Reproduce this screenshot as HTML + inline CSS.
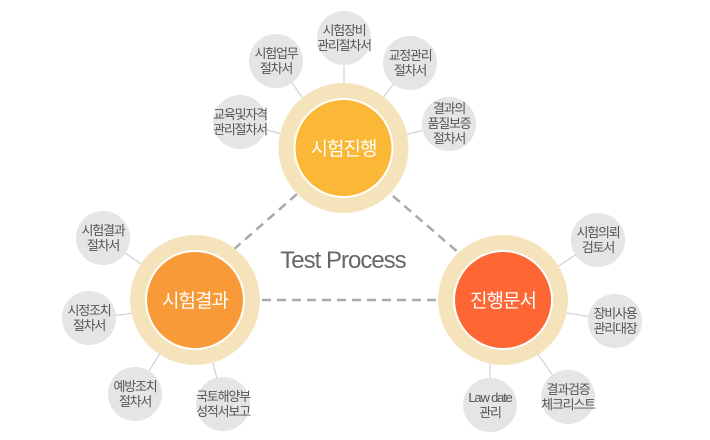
<!DOCTYPE html>
<html><head><meta charset="utf-8"><style>
html,body{margin:0;padding:0;background:#fff;}
svg{display:block;font-family:"Liberation Sans","Noto Sans CJK KR",sans-serif;}
.s{fill:#e5e5e5}
.st{font-size:13px;fill:#555;text-anchor:middle;letter-spacing:-1.2px}
.m{font-size:19px;fill:#fff;text-anchor:middle;letter-spacing:-1px}
.l{stroke:#c8c8c8;stroke-width:1}
.d{stroke:#aaa;stroke-width:2.5;stroke-dasharray:9,6;fill:none}
</style></head><body>
<svg width="710" height="440" viewBox="0 0 710 440">
<line class="d" x1="297" y1="194" x2="233" y2="250"/>
<line class="d" x1="393" y1="196" x2="460" y2="254"/>
<line class="d" x1="262" y1="300" x2="437" y2="300"/>
<text x="343" y="268" font-size="24" fill="#666" text-anchor="middle" letter-spacing="-1">Test Process</text>
<g class="l">
<line x1="240" y1="122" x2="295" y2="138"/>
<line x1="276" y1="61" x2="310" y2="108"/>
<line x1="344" y1="38" x2="344" y2="98"/>
<line x1="410" y1="63" x2="375" y2="108"/>
<line x1="449" y1="124" x2="392" y2="138"/>
<line x1="103" y1="238" x2="150" y2="270"/>
<line x1="89" y1="318" x2="145" y2="312"/>
<line x1="135" y1="394" x2="165" y2="345"/>
<line x1="223" y1="404" x2="210" y2="350"/>
<line x1="598" y1="240" x2="545" y2="275"/>
<line x1="615" y1="321" x2="550" y2="310"/>
<line x1="490" y1="405" x2="490" y2="340"/>
<line x1="568" y1="397" x2="530" y2="343"/>
</g>
<circle cx="343.5" cy="148" r="65" fill="#f5e3bb"/>
<circle cx="343.5" cy="148" r="50" fill="#fff"/>
<circle cx="343.5" cy="148" r="48" fill="#fbb736"/>
<text class="m" x="343.5" y="155">시험진행</text>
<circle cx="195" cy="300" r="65" fill="#f5e3bb"/>
<circle cx="195" cy="300" r="50" fill="#fff"/>
<circle cx="195" cy="300" r="48" fill="#f99a38"/>
<text class="m" x="195" y="307">시험결과</text>
<circle cx="503" cy="300" r="65" fill="#f5e3bb"/>
<circle cx="503" cy="300" r="50" fill="#fff"/>
<circle cx="503" cy="300" r="48" fill="#fe6634"/>
<text class="m" x="503" y="307">진행문서</text>
<circle class="s" cx="240" cy="122" r="27"/>
<text class="st" x="240" y="119">교육및자격</text><text class="st" x="240" y="134">관리절차서</text>
<circle class="s" cx="276" cy="61" r="27"/>
<text class="st" x="276" y="58">시험업무</text><text class="st" x="276" y="73">절차서</text>
<circle class="s" cx="344" cy="38" r="27"/>
<text class="st" x="344" y="35">시험장비</text><text class="st" x="344" y="50">관리절차서</text>
<circle class="s" cx="410" cy="63" r="27"/>
<text class="st" x="410" y="60">교정관리</text><text class="st" x="410" y="75">절차서</text>
<circle class="s" cx="449" cy="124" r="27"/>
<text class="st" x="449" y="113">결과의</text><text class="st" x="449" y="128">품질보증</text><text class="st" x="449" y="143">절차서</text>
<circle class="s" cx="103" cy="238" r="27"/>
<text class="st" x="103" y="235">시험결과</text><text class="st" x="103" y="250">절차서</text>
<circle class="s" cx="89" cy="318" r="27"/>
<text class="st" x="89" y="315">시정조치</text><text class="st" x="89" y="330">절차서</text>
<circle class="s" cx="135" cy="394" r="27"/>
<text class="st" x="135" y="391">예방조치</text><text class="st" x="135" y="406">절차서</text>
<circle class="s" cx="223" cy="404" r="27"/>
<text class="st" x="223" y="401">국토해양부</text><text class="st" x="223" y="416">성적서보고</text>
<circle class="s" cx="598" cy="240" r="27"/>
<text class="st" x="598" y="237">시험의뢰</text><text class="st" x="598" y="252">검토서</text>
<circle class="s" cx="615" cy="321" r="27"/>
<text class="st" x="615" y="318">장비사용</text><text class="st" x="615" y="333">관리대장</text>
<circle class="s" cx="490" cy="405" r="27"/>
<text class="st" x="490" y="402">Law date</text><text class="st" x="490" y="417">관리</text>
<circle class="s" cx="568" cy="397" r="27"/>
<text class="st" x="568" y="394">결과검증</text><text class="st" x="568" y="409">체크리스트</text>
</svg>
</body></html>
